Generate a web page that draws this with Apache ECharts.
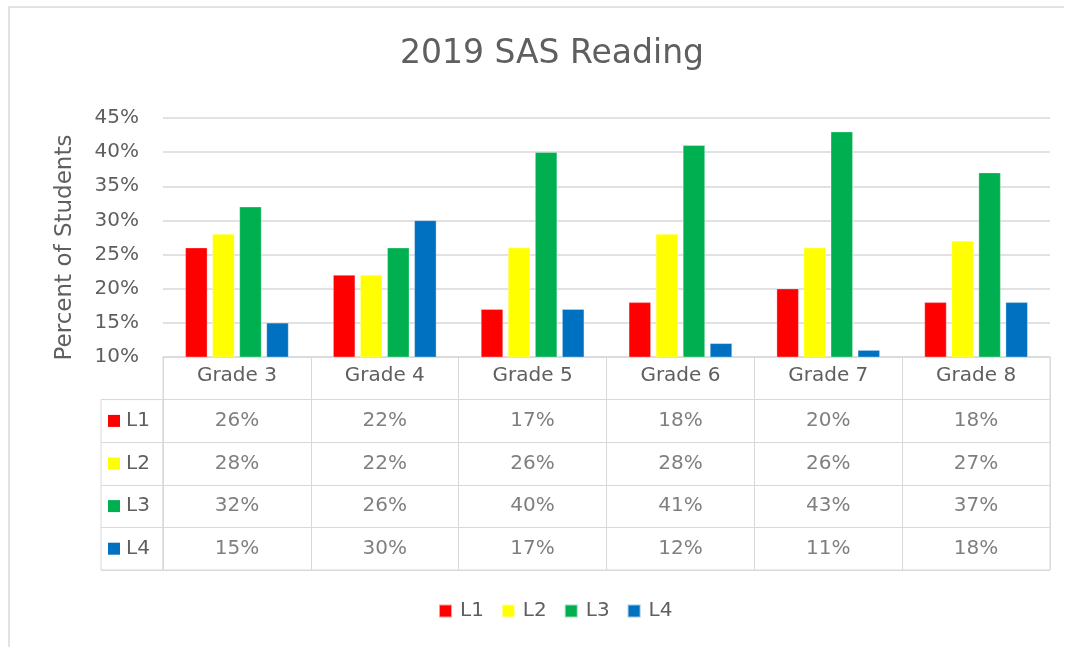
<!DOCTYPE html>
<html>
<head>
<meta charset="utf-8">
<script src="https://cdn.jsdelivr.net/npm/echarts@6/dist/echarts.min.js"></script>
<style>
html,body{margin:0;padding:0;background:#fff;}
#chart{width:1073px;height:647px;}
</style>
</head>
<body>
<div id="chart"></div>
<script>
// ---- data ----
const categories = ['Grade 3', 'Grade 4', 'Grade 5', 'Grade 6', 'Grade 7', 'Grade 8'];
const seriesNames = ['L1', 'L2', 'L3', 'L4'];
const L1 = [26, 22, 17, 18, 20, 18];
const L2 = [28, 22, 26, 28, 26, 27];
const L3 = [32, 26, 40, 41, 43, 37];
const L4 = [15, 30, 17, 12, 11, 18];
const yTicks = { min: 10, max: 45, interval: 5 };
const colors = ['#FF0000', '#FFFF00', '#00B050', '#0070C0'];
const values = [L1, L2, L3, L4];

// ---- layout ----
const FONT = 'DejaVu Sans';
const TXT = '#5f5f5f';
const LINE = '#d9d9d9';
const plotLeft = 163, plotRight = 23, plotTop = 118, plotBottomY = 357;
const tableTop = 357, tableBottomY = 570, colLeftX = 101;
const H = 647;
const rowH = (tableBottomY - tableTop) / 5;

const chart = echarts.init(document.getElementById('chart'));

const tableData = [];
seriesNames.forEach((n, s) => {
  values[s].forEach((v, i) => tableData.push([i, n, v]));
});

const rich = {};
seriesNames.forEach((n, s) => {
  rich[n] = { width: 12, height: 12, backgroundColor: colors[s] };
});
rich.t = { color: TXT, fontSize: 20, fontFamily: FONT, padding: [0, 0, 0, 6] };

const option = {
  animation: false,
  textStyle: { fontFamily: FONT, color: TXT },
  title: {
    text: '2019 SAS Reading',
    left: 547,
    textAlign: 'center',
    top: 33,
    textStyle: { fontFamily: FONT, fontSize: 33, fontWeight: 'normal', color: TXT }
  },
  legend: {
    data: seriesNames,
    left: 433,
    top: 596,
    icon: 'rect',
    itemWidth: 13,
    itemHeight: 13,
    itemGap: 17,
    textStyle: { fontFamily: FONT, fontSize: 20, color: TXT, padding: [0, 0, 0, 3] }
  },
  graphic: [{
    type: 'polyline',
    shape: { points: [[9, H], [9, 7], [1064, 7]] },
    style: { stroke: LINE, lineWidth: 1.5, fill: null },
    silent: true
  }],
  grid: [
    { left: plotLeft, right: plotRight, top: plotTop, bottom: H - plotBottomY },
    { left: plotLeft, right: plotRight, top: tableTop, bottom: H - tableBottomY,
      show: true, borderColor: LINE, borderWidth: 1 },
    { left: colLeftX, width: plotLeft - colLeftX, top: tableTop + rowH, bottom: H - tableBottomY,
      show: true, borderColor: LINE, borderWidth: 1 }
  ],
  xAxis: [
    { gridIndex: 0, type: 'category', data: categories,
      axisLine: { show: true, lineStyle: { color: LINE } },
      axisTick: { show: false }, axisLabel: { show: false } },
    { gridIndex: 1, type: 'category', data: categories, position: 'top',
      axisLine: { show: true, lineStyle: { color: LINE } },
      axisTick: { show: false },
      axisLabel: { inside: true, margin: 9, fontSize: 20, color: TXT, fontFamily: FONT },
      splitLine: { show: true, lineStyle: { color: LINE, width: 1 } } },
    { gridIndex: 2, type: 'value', min: 0, max: 1, show: false }
  ],
  yAxis: [
    { gridIndex: 0, type: 'value', min: yTicks.min, max: yTicks.max, interval: yTicks.interval,
      name: 'Percent of Students', nameLocation: 'middle', nameRotate: 90, nameGap: 86,
      nameTextStyle: { fontFamily: FONT, fontSize: 23, color: TXT, padding: [0, 20, 0, 0] },
      axisLabel: { formatter: '{value}%', fontSize: 20, color: TXT, fontFamily: FONT, margin: 24 },
      axisLine: { show: false }, axisTick: { show: false },
      splitLine: { lineStyle: { color: LINE, width: 1.5 } } },
    { gridIndex: 1, type: 'category', data: [''].concat(seriesNames), inverse: true,
      axisLine: { show: false }, axisTick: { show: false }, axisLabel: { show: false },
      splitLine: { show: true, lineStyle: { color: LINE, width: 1 } } },
    { gridIndex: 2, type: 'category', data: seriesNames, inverse: true,
      axisLine: { show: false }, axisTick: { show: false },
      axisLabel: { inside: true, margin: 7,
        formatter: v => '{' + v + '|}{t|' + v + '}', rich: rich },
      splitLine: { show: true, lineStyle: { color: LINE, width: 1 } } }
  ],
  series: seriesNames.map((n, s) => ({
    name: n,
    type: 'bar',
    xAxisIndex: 0, yAxisIndex: 0,
    data: values[s],
    barWidth: 22,
    barGap: '23%',
    clip: true,
    itemStyle: { color: colors[s], borderColor: 'rgba(255,255,255,0.6)', borderWidth: 0.5 }
  })).concat([{
    name: 'table',
    type: 'scatter',
    xAxisIndex: 1, yAxisIndex: 1,
    data: tableData,
    symbolSize: 1,
    itemStyle: { color: 'rgba(0,0,0,0)' },
    silent: true,
    label: {
      show: true, position: 'inside',
      formatter: p => p.value[2] + '%',
      fontSize: 20, color: TXT, fontFamily: FONT
    }
  }])
};
chart.setOption(option);
</script>
</body>
</html>
